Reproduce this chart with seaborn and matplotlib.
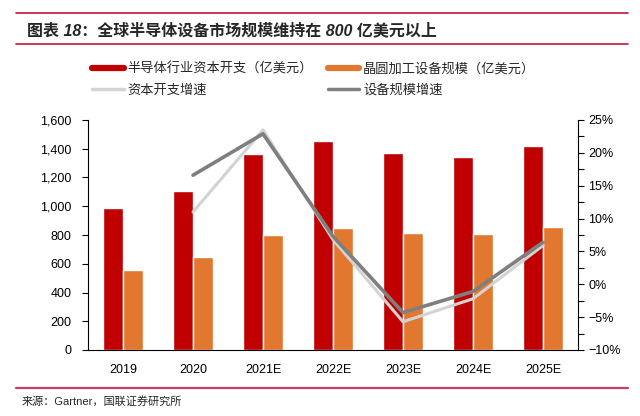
import numpy as np
import pandas as pd
import matplotlib
matplotlib.use("Agg")
import matplotlib.pyplot as plt
from matplotlib.lines import Line2D
from matplotlib.ticker import FuncFormatter, MultipleLocator, FixedLocator
import seaborn as sns

years = ["2019", "2020", "2021E", "2022E", "2023E", "2024E", "2025E"]
capex = [990, 1105, 1365, 1455, 1372, 1340, 1420]          # 半导体行业资本开支（亿美元）
equipment = [560, 650, 798, 852, 812, 806, 857]            # 晶圆加工设备规模（亿美元）
capex_growth = [np.nan, 11.0, 23.5, 6.8, -5.7, -2.2, 5.9]  # 资本开支增速 %
equip_growth = [np.nan, 16.6, 22.9, 7.3, -4.3, -1.1, 6.4]  # 设备规模增速 %

bar_names = ["半导体行业资本开支（亿美元）", "晶圆加工设备规模（亿美元）"]
line_names = ["资本开支增速", "设备规模增速"]
red, orange = "#C00000", "#E2782F"
light_gray, dark_gray = "#D3D3D3", "#7F7F7F"

sns.set_theme(style="white")
plt.rcParams["font.family"] = ["Liberation Sans", "Noto Sans CJK SC", "DejaVu Sans"]

df = pd.DataFrame({"year": years * 2,
                   "value": capex + equipment,
                   "series": [bar_names[0]] * 7 + [bar_names[1]] * 7})

fig = plt.figure(figsize=(6.4, 4.16), dpi=100)
ax = fig.add_axes([88 / 640, 1 - 350 / 416, 490 / 640, 230 / 416])

sns.barplot(data=df, x="year", y="value", hue="series", palette=[red, orange],
            width=0.56, gap=0, saturation=1, ax=ax, legend=False)
ax.set_xlim(-0.5, 6.5)
ax.set_ylim(0, 1600)
ax.set_yticks(range(0, 1601, 200))
ax.yaxis.set_major_formatter(FuncFormatter(lambda v, p: f"{int(v):,}"))
ax.set_xlabel("")
ax.set_ylabel("")
ax.xaxis.set_minor_locator(FixedLocator(np.arange(-0.5, 7, 1)))
ax.tick_params(axis="x", which="major", length=0, pad=10, labelsize=9, colors="black")
ax.tick_params(axis="x", which="minor", length=4, width=0.8, direction="out", color="black")
ax.tick_params(axis="y", length=4, width=0.8, direction="out", pad=8, labelsize=9, colors="black")
for s in ["left", "bottom"]:
    ax.spines[s].set_color("black")
    ax.spines[s].set_linewidth(0.8)
ax.spines["top"].set_visible(False)
ax.spines["right"].set_visible(False)

ax2 = ax.twinx()
pos = np.arange(len(years))
sns.lineplot(x=pos, y=capex_growth, color=light_gray, linewidth=2.2, ax=ax2)
sns.lineplot(x=pos, y=equip_growth, color=dark_gray, linewidth=2.6, ax=ax2)
ax2.set_ylim(-10, 25)
ax2.yaxis.set_major_locator(MultipleLocator(5))
ax2.yaxis.set_minor_locator(MultipleLocator(2.5))
ax2.yaxis.set_major_formatter(FuncFormatter(lambda v, p: f"{int(round(v))}%".replace("-", "\u2212")))
ax2.tick_params(axis="y", which="both", length=4, width=0.8, direction="out",
                labelsize=9, colors="black")
for s in ["left", "top", "bottom"]:
    ax2.spines[s].set_visible(False)
ax2.spines["right"].set_color("black")
ax2.spines["right"].set_linewidth(0.8)

handles = [Line2D([], [], color=red, lw=4.5),
           Line2D([], [], color=light_gray, lw=2.5),
           Line2D([], [], color=orange, lw=4.5),
           Line2D([], [], color=dark_gray, lw=2.5)]
labels = [bar_names[0], line_names[0], bar_names[1], line_names[1]]
fig.legend(handles, labels, loc="upper left", bbox_to_anchor=(92 / 640, 1 - 62 / 416),
           ncol=2, frameon=False, fontsize=9.5, handlelength=2.4, handletextpad=0.3,
           columnspacing=1.1, labelspacing=0.7, borderpad=0, borderaxespad=0)

# title band and footer
fig.add_artist(Line2D([16 / 640, 628 / 640], [1 - 13 / 416] * 2, color="#C0143C", lw=1.2))
fig.add_artist(Line2D([16 / 640, 628 / 640], [1 - 44 / 416] * 2, color="#C0143C", lw=1.2))
fig.text(27 / 640, 1 - 30 / 416, "图表 18：全球半导体设备市场规模维持在 800 亿美元以上",
         fontsize=11.5, fontweight="bold", fontstyle="italic", va="center", ha="left")
fig.add_artist(Line2D([16 / 640, 628 / 640], [1 - 388 / 416] * 2, color="#C8406A", lw=1.6))
fig.text(22 / 640, 1 - 401 / 416, "来源：Gartner，国联证券研究所", fontsize=8,
         va="center", ha="left")

fig.savefig("out.png", dpi=100)
